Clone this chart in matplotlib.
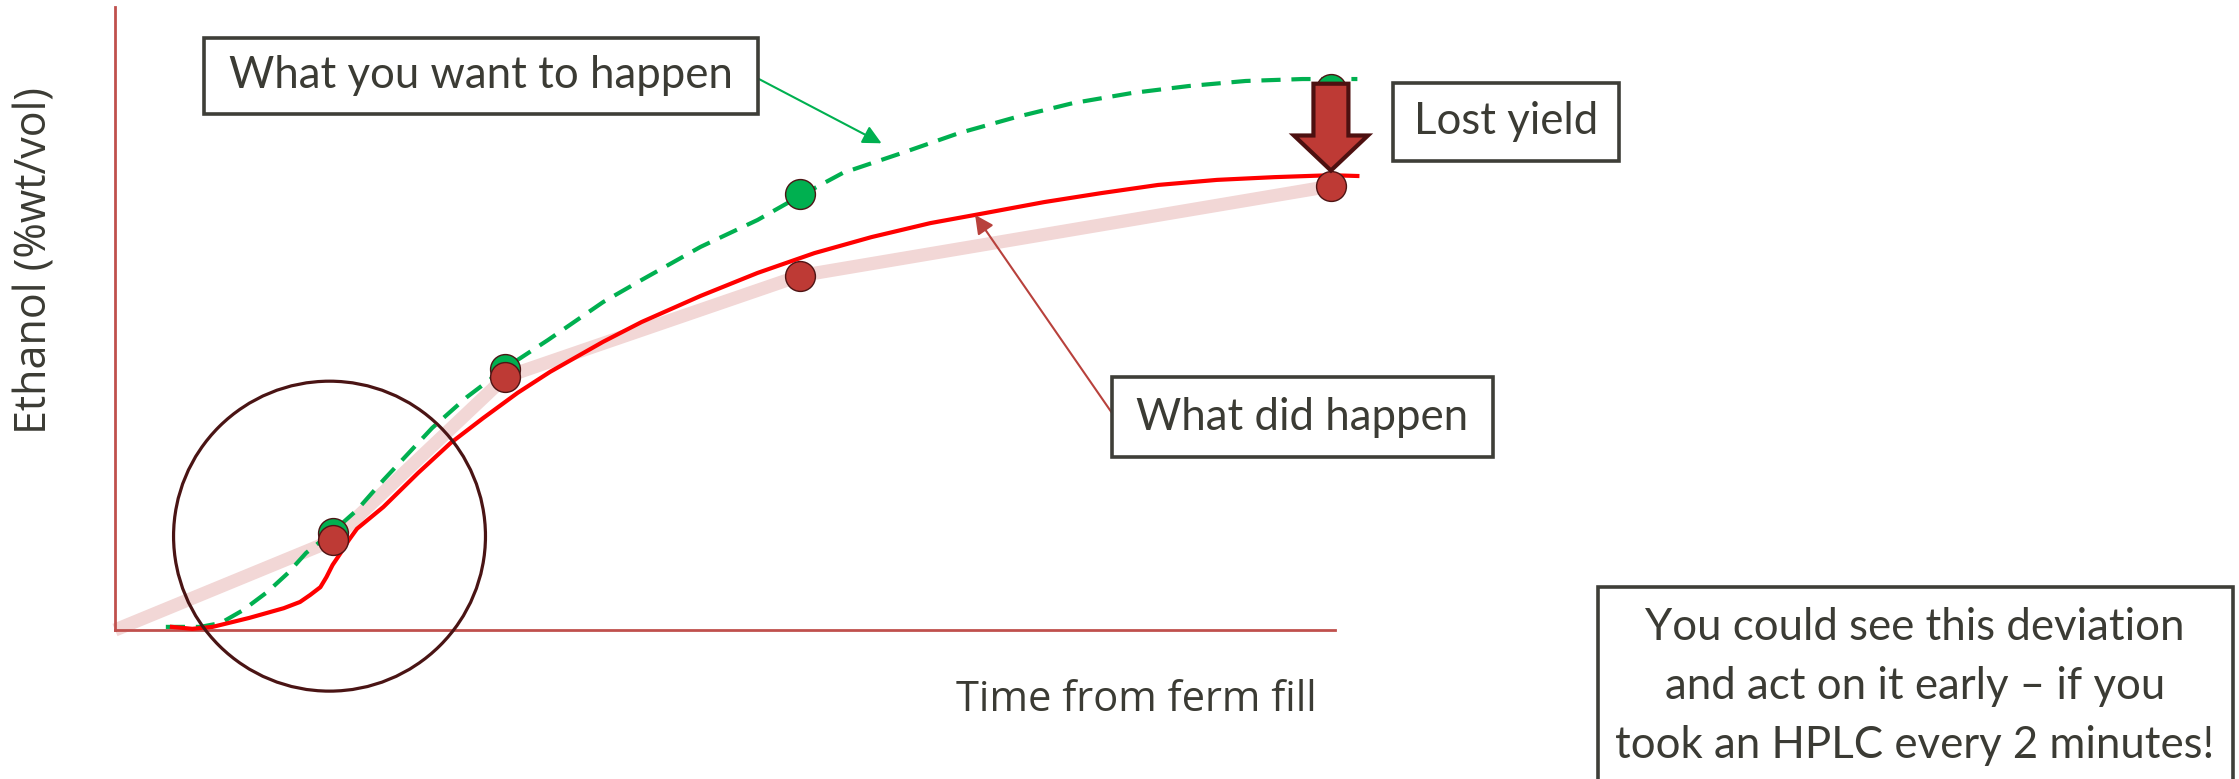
import matplotlib.pyplot as plt
from matplotlib.patches import Rectangle, Ellipse, FancyArrow

# HPLC samples: hours from ferm fill, ethanol %wt/vol
sample_time = [10.7, 19.2, 33.7, 59.8]
target_etoh = [2.5, 6.7, 11.2, 13.9]
actual_etoh = [2.3, 6.5, 9.1, 11.4]

# what you want to happen (green dashed trend)
target_t = [2.5, 4.2, 5.2, 6.3, 7.5, 8.5, 9.4, 10.7, 11.9, 13.2, 15.6, 17.3, 19.2,
            21.3, 24.0, 25.9, 28.8, 31.6, 33.7, 35.8, 38.7, 41.5, 44.3, 47.1, 50.0,
            52.8, 55.6, 58.4, 61.1]
target_y = [0.08, 0.08, 0.18, 0.51, 0.98, 1.46, 1.98, 2.52, 3.08, 3.85, 5.19, 5.98, 6.73,
            7.45, 8.42, 8.99, 9.84, 10.53, 11.15, 11.74, 12.25, 12.76, 13.17, 13.53, 13.79,
            13.97, 14.10, 14.15, 14.15]

# what did happen (red continuous trend)
actual_t = [2.8, 3.8, 4.8, 6.6, 8.3, 9.1, 9.6, 10.1, 10.4, 10.7, 11.1, 11.5, 11.9, 13.2,
            14.9, 16.5, 18.1, 19.8, 21.4, 24.0, 25.9, 28.8, 31.6, 34.4, 37.2, 40.1, 42.3,
            45.7, 48.5, 51.3, 54.2, 57.0, 59.8, 61.1]
actual_y = [0.08, 0.03, 0.08, 0.31, 0.56, 0.72, 0.90, 1.10, 1.36, 1.67, 1.98, 2.31, 2.60,
            3.16, 4.03, 4.80, 5.44, 6.09, 6.63, 7.40, 7.91, 8.58, 9.17, 9.68, 10.09, 10.45,
            10.66, 10.99, 11.22, 11.43, 11.56, 11.63, 11.68, 11.66]

note_lines = ["You could see this deviation",
              "and act on it early \u2013 if you",
              "took an HPLC every 2 minutes!"]

W, H = 2239, 779
TXT = '#3B3B34'
EDGE = '#3E3E38'
BOX_FONT = 'Lato'
LBL_FONT = 'Open Sans'

fig = plt.figure(figsize=(W / 100, H / 100), dpi=100)
ax = fig.add_axes([115 / W, 1 - 630 / H, 1220 / W, 623 / H])
ax.set_xlim(0, 60)
ax.set_ylim(0, 16)
ax.set_xticks([])
ax.set_yticks([])
for s in ['top', 'right']:
    ax.spines[s].set_visible(False)
for s in ['left', 'bottom']:
    ax.spines[s].set_color('#C0504D')
    ax.spines[s].set_linewidth(2)


def px(x, y):
    # image pixel (top-left origin) -> figure fraction
    return x / W, 1 - y / H


# sampled points joined (pale band)
ax.plot([0] + sample_time, [0] + actual_etoh, color='#F2D7D6', lw=9.5,
        solid_capstyle='butt', zorder=2, clip_on=False)
ax.plot(target_t, target_y, color='#00B050', lw=3, dashes=(4.6, 2.6), zorder=3, clip_on=False)
ax.plot(actual_t, actual_y, color='#FF0000', lw=3, zorder=4, clip_on=False,
        solid_joinstyle='round')
ax.plot(sample_time, target_etoh, 'o', ms=21.5, mfc='#00B050', mec='#4D1414', mew=1,
        zorder=5, clip_on=False)
ax.plot(sample_time, actual_etoh, 'o', ms=21.5, mfc='#BE3A35', mec='#4D1414', mew=1,
        zorder=6, clip_on=False)

# circle round the early deviation
ax.add_patch(Ellipse((10.55, 2.41), 15.34, 7.96, fill=False, ec='#4A1414', lw=2.3,
                     zorder=7, clip_on=False))

# lost yield arrow
top = target_etoh[-1] + 0.13
tip = actual_etoh[-1] + 0.4
ax.add_patch(FancyArrow(sample_time[-1], top, 0, tip - top, width=1.72, head_width=3.64,
                        head_length=0.9, length_includes_head=True, fc='#BE3A35',
                        ec='#4D1010', lw=3, zorder=8, clip_on=False))


def box(x0, y0, x1, y1):
    fig.add_artist(Rectangle(px(x0, y1), (x1 - x0) / W, (y1 - y0) / H,
                             transform=fig.transFigure, fc='white', ec=EDGE, lw=2.6, zorder=10))


box(204, 38, 758, 114)
fig.text(*px(481, 76), 'What you want to happen', ha='center', va='center', fontsize=31.5,
         family=BOX_FONT, color=TXT, zorder=11)
box(1393, 83, 1619, 161)
fig.text(*px(1506, 122), 'Lost yield', ha='center', va='center', fontsize=31.5,
         family=BOX_FONT, color=TXT, zorder=11)
box(1112, 377, 1493, 457)
fig.text(*px(1302, 418), 'What did happen', ha='center', va='center', fontsize=31.5,
         family=BOX_FONT, color=TXT, zorder=11)
box(1598, 587, 2233, 820)
for i, line in enumerate(note_lines):
    fig.text(*px(1915, 628 + i * 58.5), line, ha='center', va='center', fontsize=31.5,
             family=BOX_FONT, color=TXT, zorder=11)

ax.annotate('', xy=(37.7, 12.5), xytext=px(757, 78), textcoords='figure fraction',
            arrowprops=dict(arrowstyle='-|>', color='#00B050', lw=1.5, mutation_scale=28,
                            shrinkA=0, shrinkB=0), zorder=9)
ax.annotate('', xy=(42.3, 10.66), xytext=px(1112, 413), textcoords='figure fraction',
            arrowprops=dict(arrowstyle='-|>', color='#B8413C', lw=1.5, mutation_scale=28,
                            shrinkA=0, shrinkB=0), zorder=9)

fig.text(*px(35, 261), 'Ethanol (%wt/vol)', rotation=90, ha='center', va='center',
         fontsize=31, family=LBL_FONT, color=TXT)
fig.text(*px(1317, 700), 'Time from ferm fill', ha='right', va='center',
         fontsize=30, family=LBL_FONT, color=TXT)

fig.savefig('out.png', dpi=100)
